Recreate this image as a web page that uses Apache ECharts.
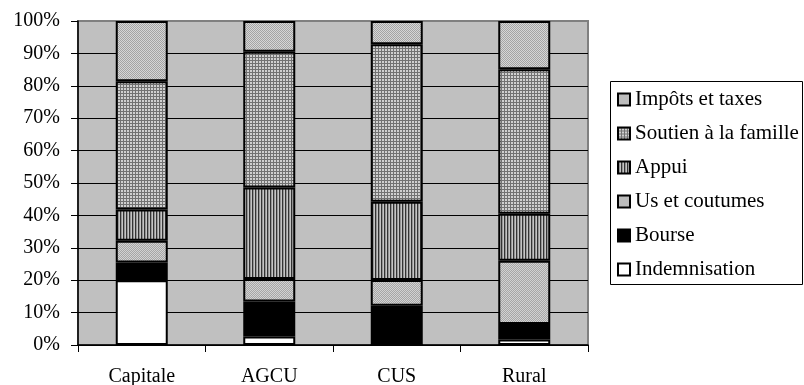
<!DOCTYPE html>
<html>
<head>
<meta charset="utf-8">
<script src="https://cdn.jsdelivr.net/npm/echarts@6/dist/echarts.min.js"></script>
<style>
  html, body { margin: 0; padding: 0; background: #fff; }
  #chartMain { width: 804px; height: 385px; }
</style>
</head>
<body>
<div id="chartMain"></div>
<script>
var categories = ['Capitale', 'AGCU', 'CUS', 'Rural'];
var indemnisation = [20, 2.6, 0, 1.7];
var bourse = [5.5, 10.8, 12.1, 4.8];
var usCoutumes = [6.7, 7, 8, 19.5];
var appui = [9.6, 28.2, 24.1, 14.5];
var soutien = [39.6, 41.9, 48.6, 44.6];
var impots = [18.6, 9.5, 7.2, 14.9];
var yTicks = [0, 10, 20, 30, 40, 50, 60, 70, 80, 90, 100];

/*---- small pixel patterns, like the old excel fills ----*/
function makePattern(w, h, paint) {
    var c = document.createElement('canvas');
    c.width = w;
    c.height = h;
    var ctx = c.getContext('2d');
    paint(ctx);
    return { image: c, repeat: 'repeat' };
}
function px(ctx, col, x, y) {
    ctx.fillStyle = col;
    ctx.fillRect(x, y, 1, 1);
}

var patImpots = makePattern(2, 2, function (ctx) {
    ctx.fillStyle = '#d6d6d6'; ctx.fillRect(0, 0, 2, 2);
    px(ctx, '#a4a4a4', 0, 0);
    px(ctx, '#a4a4a4', 1, 1);
});
var patSoutien = makePattern(3, 3, function (ctx) {
    ctx.fillStyle = '#d0d0d0'; ctx.fillRect(0, 0, 3, 3);
    ctx.fillStyle = '#727272';
    ctx.fillRect(0, 0, 3, 1);
    ctx.fillRect(0, 0, 1, 3);
});
var patAppui = makePattern(3, 1, function (ctx) {
    px(ctx, '#333333', 0, 0);
    px(ctx, '#949494', 1, 0);
    px(ctx, '#c4c4c4', 2, 0);
});
var patUs = makePattern(2, 2, function (ctx) {
    ctx.fillStyle = '#d2d2d2'; ctx.fillRect(0, 0, 2, 2);
    px(ctx, '#a6a6a6', 1, 0);
    px(ctx, '#a6a6a6', 0, 1);
});

var serif = '"Liberation Serif", "Times New Roman", serif';

function barSeries(name, data, fill) {
    return {
        name: name,
        type: 'bar',
        stack: 'total',
        barWidth: 52,
        data: data,
        itemStyle: {
            color: fill,
            borderColor: '#000',
            borderWidth: 2
        }
    };
}

var seriesList = [
    barSeries('Indemnisation', indemnisation, '#ffffff'),
    barSeries('Bourse', bourse, '#000000'),
    barSeries('Us et coutumes', usCoutumes, patUs),
    barSeries('Appui', appui, patAppui),
    barSeries('Soutien à la famille', soutien, patSoutien),
    barSeries('Impôts et taxes', impots, patImpots)
];

var option = {
    animation: false,
    backgroundColor: '#fff',
    textStyle: { fontFamily: serif },
    grid: {
        left: 78,
        right: 216,
        top: 21,
        bottom: 40,
        outerBoundsMode: 'none',
        show: true,
        backgroundColor: '#c0c0c0',
        borderColor: '#808080',
        borderWidth: 2
    },
    xAxis: {
        type: 'category',
        data: categories,
        axisLine: { lineStyle: { color: '#000', width: 1.5 } },
        axisTick: { show: true, length: 7, lineStyle: { color: '#000' } },
        axisLabel: { fontSize: 20, color: '#000', margin: 22, fontFamily: serif }
    },
    yAxis: {
        type: 'value',
        min: yTicks[0],
        max: yTicks[yTicks.length - 1],
        interval: yTicks[1] - yTicks[0],
        axisLine: { show: true, lineStyle: { color: '#000', width: 1.5 } },
        axisTick: { show: true, length: 7, lineStyle: { color: '#000' } },
        axisLabel: { fontSize: 20, color: '#000', margin: 18, formatter: '{value}%', fontFamily: serif },
        splitLine: { show: true, showMaxLine: false, lineStyle: { color: '#000', width: 1 } }
    },
    legend: {
        orient: 'vertical',
        left: 610,
        top: 81,
        padding: [8, 4, 8, 7],
        itemGap: 13,
        itemWidth: 12,
        itemHeight: 12,
        icon: 'rect',
        selectedMode: false,
        data: ['Impôts et taxes', 'Soutien à la famille', 'Appui', 'Us et coutumes', 'Bourse', 'Indemnisation'],
        textStyle: { fontSize: 21, color: '#000', fontFamily: serif }
    },
    // legend frame
    graphic: [{
        type: 'rect',
        shape: { x: 610.5, y: 81.5, width: 192, height: 203 },
        style: { fill: 'none', stroke: '#000', lineWidth: 1 },
        silent: true
    }],
    series: seriesList
};

var chartMain = echarts.init(document.getElementById('chartMain'));
chartMain.setOption(option);
</script>
</body>
</html>
